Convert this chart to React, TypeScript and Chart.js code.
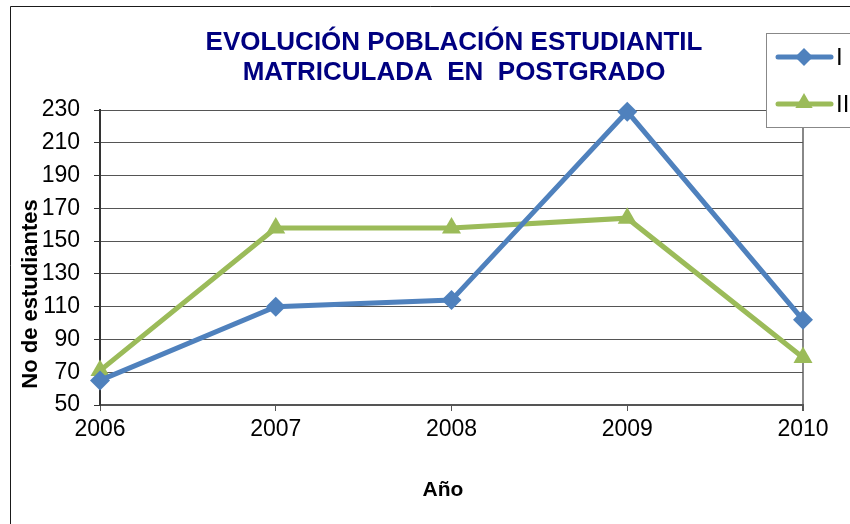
import React, { useEffect, useRef } from 'react';
import { Chart, registerables } from 'chart.js';

Chart.register(...registerables);

const YEARS = ['2006', '2007', '2008', '2009', '2010'];
const SERIES_I = [65, 110, 114, 229, 102];
const SERIES_II = [71, 158, 158, 164, 79];
const SERIES_NAMES = ['I', 'II'];
const TITLE_LINES = ['EVOLUCIÓN POBLACIÓN ESTUDIANTIL', 'MATRICULADA  EN  POSTGRADO'];
const Y_TITLE = 'No de estudiantes';
const X_TITLE = 'Año';
const Y_MIN = 50;
const Y_MAX = 230;
const Y_STEP = 20;

const BLUE = '#4F81BD';
const GREEN = '#9BBB59';
const FONT = '"Liberation Sans", Arial, sans-serif';

function diamond(ctx: CanvasRenderingContext2D, x: number, y: number, r: number, color: string) {
  ctx.beginPath();
  ctx.moveTo(x, y - r);
  ctx.lineTo(x + r, y);
  ctx.lineTo(x, y + r);
  ctx.lineTo(x - r, y);
  ctx.closePath();
  ctx.fillStyle = color;
  ctx.fill();
}

function triangle(ctx: CanvasRenderingContext2D, x: number, y: number, r: number, color: string) {
  const h = r * Math.sqrt(3) / 2;
  ctx.beginPath();
  ctx.moveTo(x, y - r);
  ctx.lineTo(x + h, y + r / 2);
  ctx.lineTo(x - h, y + r / 2);
  ctx.closePath();
  ctx.fillStyle = color;
  ctx.fill();
}

const overlay = {
  id: 'overlay',
  afterDraw(chart: any) {
    const ctx: CanvasRenderingContext2D = chart.ctx;
    ctx.save();
    // outer frame
    ctx.strokeStyle = '#1a1a1a';
    ctx.lineWidth = 1;
    ctx.beginPath();
    ctx.moveTo(10.5, 524);
    ctx.lineTo(10.5, 6.5);
    ctx.lineTo(850, 6.5);
    ctx.stroke();

    // title
    ctx.fillStyle = '#000080';
    ctx.font = `bold 26px ${FONT}`;
    ctx.textAlign = 'center';
    ctx.textBaseline = 'alphabetic';
    TITLE_LINES.forEach((t, i) => ctx.fillText(t, 454, 50 + i * 30));

    // axis titles
    ctx.fillStyle = '#000';
    ctx.font = `bold 21px ${FONT}`;
    ctx.textBaseline = 'middle';
    ctx.fillText(X_TITLE, 443, 490);
    ctx.font = `bold 22px ${FONT}`;
    ctx.save();
    ctx.translate(31, 294);
    ctx.rotate(-Math.PI / 2);
    ctx.fillText(Y_TITLE, 0, 0);
    ctx.restore();

    // legend
    ctx.fillStyle = '#fff';
    ctx.fillRect(766, 33, 90, 95);
    ctx.strokeStyle = '#888';
    ctx.lineWidth = 1;
    ctx.strokeRect(766.5, 33.5, 100, 94);
    const items = [
      { y: 57, color: BLUE, shape: 'd' },
      { y: 104, color: GREEN, shape: 't' },
    ];
    items.forEach((it, i) => {
      ctx.strokeStyle = it.color;
      ctx.lineWidth = 5;
      ctx.lineCap = 'round';
      ctx.beginPath();
      ctx.moveTo(778, it.y);
      ctx.lineTo(831, it.y);
      ctx.stroke();
      if (it.shape === 'd') diamond(ctx, 804, it.y, 9, it.color);
      else triangle(ctx, 804, it.y - 1, 10, it.color);
      ctx.fillStyle = '#000';
      ctx.font = `24px ${FONT}`;
      ctx.textAlign = 'left';
      ctx.textBaseline = 'middle';
      ctx.fillText(SERIES_NAMES[i], 836, it.y + 1);
    });
    ctx.restore();
  },
};

export default function App() {
  const ref = useRef<HTMLCanvasElement | null>(null);
  useEffect(() => {
    if (!ref.current) return;
    const chart = new Chart(ref.current, {
      type: 'line',
      data: {
        labels: YEARS,
        datasets: [
          {
            label: SERIES_NAMES[0],
            data: SERIES_I,
            borderColor: BLUE,
            backgroundColor: BLUE,
            borderWidth: 5,
            pointStyle: 'rectRot',
            pointRadius: 10,
            pointBorderWidth: 0,
            clip: false,
            order: 1,
          },
          {
            label: SERIES_NAMES[1],
            data: SERIES_II,
            borderColor: GREEN,
            backgroundColor: GREEN,
            borderWidth: 5,
            pointStyle: 'triangle',
            pointRadius: 11,
            pointBorderWidth: 0,
            clip: false,
            order: 2,
          },
        ],
      },
      plugins: [overlay],
      options: {
        animation: false,
        responsive: false,
        maintainAspectRatio: false,
        layout: { padding: { left: 0, top: 110, right: 47, bottom: 0 } },
        plugins: {
          legend: { display: false },
          title: { display: false },
          tooltip: { enabled: false },
        },
        scales: {
          x: {
            type: 'category',
            offset: false,
            afterFit: (s: any) => { s.height = 119; },
            grid: {
              drawOnChartArea: true,
              color: (c: any) => (c.index === YEARS.length - 1 ? '#888' : 'rgba(0,0,0,0)'),
              lineWidth: (c: any) => (c.index === YEARS.length - 1 ? 2 : 1),
              tickColor: '#555',
              tickLength: 6,
            },
            border: { color: '#555', width: 2 },
            ticks: {
              color: '#000',
              font: { family: FONT, size: 23 },
              padding: 5,
              maxRotation: 0,
              autoSkip: false,
            },
          },
          y: {
            min: Y_MIN,
            max: Y_MAX,
            afterFit: (s: any) => { s.width = 100; },
            grid: {
              color: '#555',
              lineWidth: 1,
              tickColor: '#333',
              tickLength: 6,
            },
            border: { color: '#333', width: 2 },
            ticks: {
              stepSize: Y_STEP,
              color: '#000',
              font: { family: FONT, size: 23 },
              padding: 14,
            },
          },
        },
      },
    });
    return () => chart.destroy();
  }, []);
  return (
    <div style={{ position: 'fixed', left: 0, top: 0, width: 850, height: 524, background: '#fff' }}>
      <canvas ref={ref} width={850} height={524} style={{ display: 'block', width: 850, height: 524 }} />
    </div>
  );
}
